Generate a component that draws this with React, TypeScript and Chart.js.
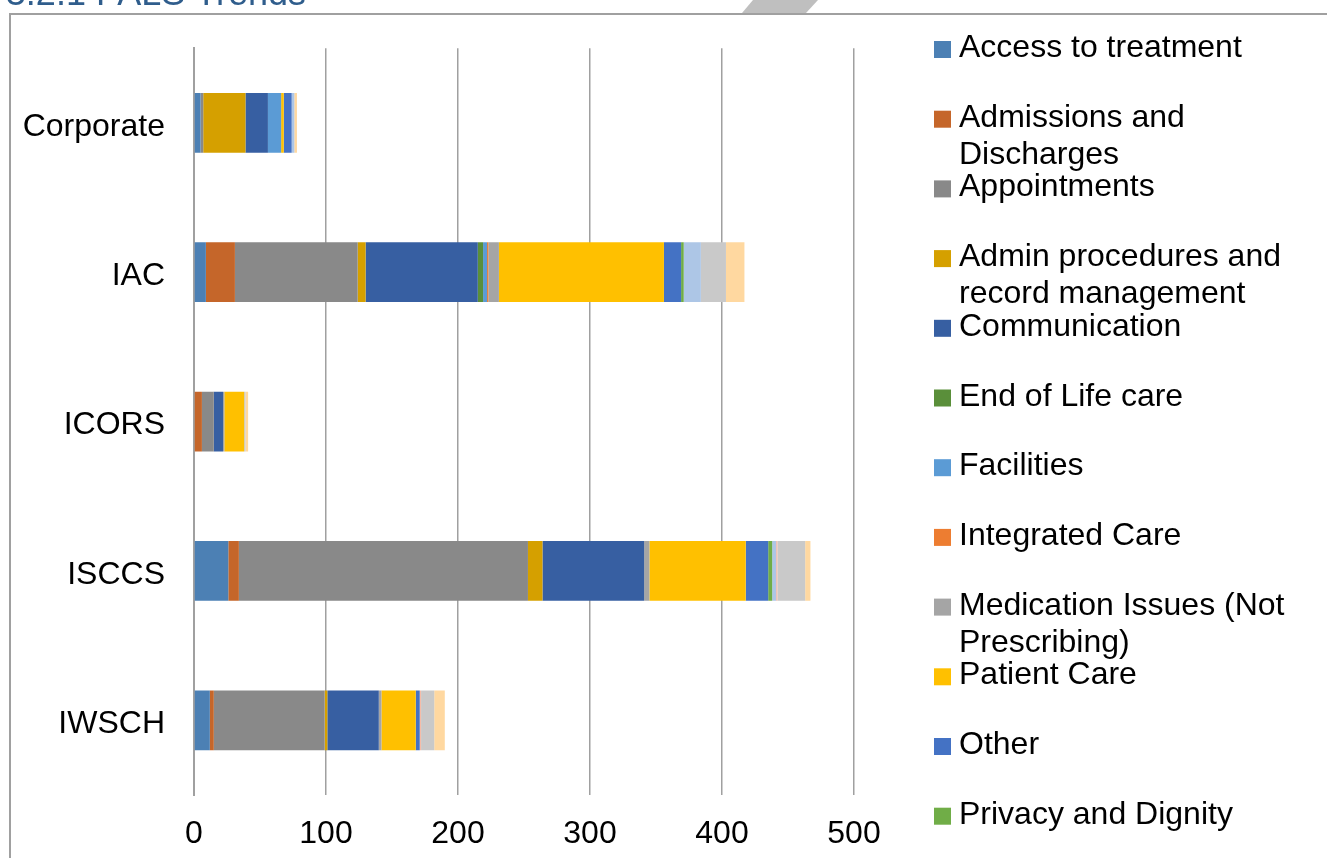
import React, { useEffect, useRef } from "react";
import { Chart, registerables } from "chart.js";

Chart.register(...registerables);

// ---- Data ----
const categories = ["Corporate", "IAC", "ICORS", "ISCCS", "IWSCH"];

const seriesNames = [
  "Access to treatment",
  "Admissions and Discharges",
  "Appointments",
  "Admin procedures and record management",
  "Communication",
  "End of Life care",
  "Facilities",
  "Integrated Care",
  "Medication Issues (Not Prescribing)",
  "Patient Care",
  "Other",
  "Privacy and Dignity",
  "Staff Attitude",
  "Transport",
  "Values and Behaviours",
  "Waiting Times",
];

const accessToTreatment = [5, 9, 0, 26, 12];
const admissionsDischarges = [0, 22, 6, 8, 3];
const appointments = [2, 93, 9, 219, 84];
const adminProcedures = [32, 6, 0, 11, 2];
const communication = [17, 85, 7, 77, 39];
const endOfLifeCare = [0, 4, 0, 0, 0];
const facilities = [10, 3, 0, 0, 0];
const integratedCare = [0, 1, 0, 0, 0];
const medicationIssues = [0, 8, 1, 4, 2];
const patientCare = [2, 125, 15, 73, 26];
const other = [6, 13, 0, 17, 3];
const privacyDignity = [0, 2, 0, 3, 0];
const staffAttitude = [2, 13, 0, 3, 0];
const transport = [0, 0, 0, 1, 1];
const valuesBehaviours = [0, 19, 1, 21, 10];
const waitingTimes = [2, 14, 2, 4, 8];

const seriesValues = [
  accessToTreatment,
  admissionsDischarges,
  appointments,
  adminProcedures,
  communication,
  endOfLifeCare,
  facilities,
  integratedCare,
  medicationIssues,
  patientCare,
  other,
  privacyDignity,
  staffAttitude,
  transport,
  valuesBehaviours,
  waitingTimes,
];

const seriesColors = [
  "#4C80B4",
  "#C5662A",
  "#898989",
  "#D5A000",
  "#375FA2",
  "#5A8F3A",
  "#5B9BD5",
  "#ED7D31",
  "#A5A5A5",
  "#FFC000",
  "#4472C4",
  "#70AD47",
  "#ADC6E6",
  "#F5BCA8",
  "#C9C9C9",
  "#FFD8A0",
];

const xTickValues = [0, 100, 200, 300, 400, 500];
const titleText = "3.2.1 PALS Trends";

const FONT = '"Liberation Sans", Arial, sans-serif';

function wrapText(ctx: CanvasRenderingContext2D, text: string, maxWidth: number): string[] {
  const words = text.split(" ");
  const lines: string[] = [];
  let cur = "";
  for (const w of words) {
    const test = cur ? cur + " " + w : w;
    if (ctx.measureText(test).width > maxWidth && cur) {
      lines.push(cur);
      cur = w;
    } else {
      cur = test;
    }
  }
  if (cur) lines.push(cur);
  return lines;
}

const decorPlugin = {
  id: "decor",
  beforeDraw(chart: any) {
    const ctx = chart.ctx as CanvasRenderingContext2D;
    ctx.save();
    ctx.fillStyle = "#FFFFFF";
    ctx.fillRect(0, 0, chart.width, chart.height);
    // gray tab shape
    ctx.fillStyle = "#BFBFBF";
    ctx.beginPath();
    ctx.moveTo(753, 0);
    ctx.lineTo(818, 0);
    ctx.lineTo(806, 13);
    ctx.lineTo(742, 13);
    ctx.closePath();
    ctx.fill();
    // frame
    ctx.strokeStyle = "#A0A0A0";
    ctx.lineWidth = 2;
    ctx.beginPath();
    ctx.moveTo(10, chart.height);
    ctx.lineTo(10, 14);
    ctx.lineTo(chart.width, 14);
    ctx.stroke();
    // heading
    ctx.fillStyle = "#2F5D8C";
    ctx.font = "36px " + FONT;
    ctx.textAlign = "right";
    ctx.textBaseline = "alphabetic";
    ctx.fillText(titleText, 306, 5);
    ctx.restore();
  },
  afterDraw(chart: any) {
    const ctx = chart.ctx as CanvasRenderingContext2D;
    ctx.save();
    ctx.font = "32px " + FONT;
    ctx.textAlign = "left";
    ctx.textBaseline = "alphabetic";
    chart.data.datasets.forEach((ds: any, i: number) => {
      const baseY = 57 + i * 69.7;
      ctx.fillStyle = ds.backgroundColor;
      ctx.fillRect(934, baseY - 16, 17, 17);
      ctx.fillStyle = "#000000";
      const lines = wrapText(ctx, ds.label, 340);
      lines.forEach((ln, j) => ctx.fillText(ln, 959, baseY + j * 37));
    });
    ctx.restore();
  },
};

export default function App() {
  const canvasRef = useRef<HTMLCanvasElement | null>(null);

  useEffect(() => {
    if (!canvasRef.current) return;
    const chart = new Chart(canvasRef.current, {
      type: "bar",
      data: {
        labels: categories,
        datasets: seriesNames.map((name, i) => ({
          label: name,
          data: seriesValues[i],
          backgroundColor: seriesColors[i],
          borderWidth: 0,
          categoryPercentage: 1,
          barPercentage: 0.4,
        })),
      },
      options: {
        indexAxis: "y",
        responsive: false,
        animation: false,
        layout: { padding: { left: 0, right: 473, top: 45, bottom: 0 } },
        plugins: {
          legend: { display: false },
          tooltip: { enabled: false },
          title: { display: false },
        },
        scales: {
          x: {
            stacked: true,
            min: 0,
            max: 500,
            afterBuildTicks: (scale: any) => {
              scale.ticks = xTickValues.map((v) => ({ value: v }));
            },
            afterFit: (scale: any) => {
              scale.height = 63;
            },
            grid: {
              color: "#A0A0A0",
              lineWidth: 1.5,
              drawTicks: false,
            },
            border: { display: false },
            ticks: {
              color: "#000000",
              font: { family: FONT, size: 32 },
              padding: 20,
              maxRotation: 0,
            },
          },
          y: {
            stacked: true,
            afterFit: (scale: any) => {
              scale.width = 194;
            },
            grid: { display: false, drawTicks: false },
            border: { display: true, color: "#A0A0A0", width: 2 },
            ticks: {
              color: "#000000",
              font: { family: FONT, size: 32 },
              padding: 29,
              labelOffset: 4,
            },
          },
        },
      },
      plugins: [decorPlugin],
    } as any);
    return () => chart.destroy();
  }, []);

  return (
    <div style={{ position: "absolute", left: 0, top: 0, width: 1327, height: 858, overflow: "hidden" }}>
      <canvas ref={canvasRef} width={1327} height={858} style={{ display: "block", width: 1327, height: 858 }} />
    </div>
  );
}
